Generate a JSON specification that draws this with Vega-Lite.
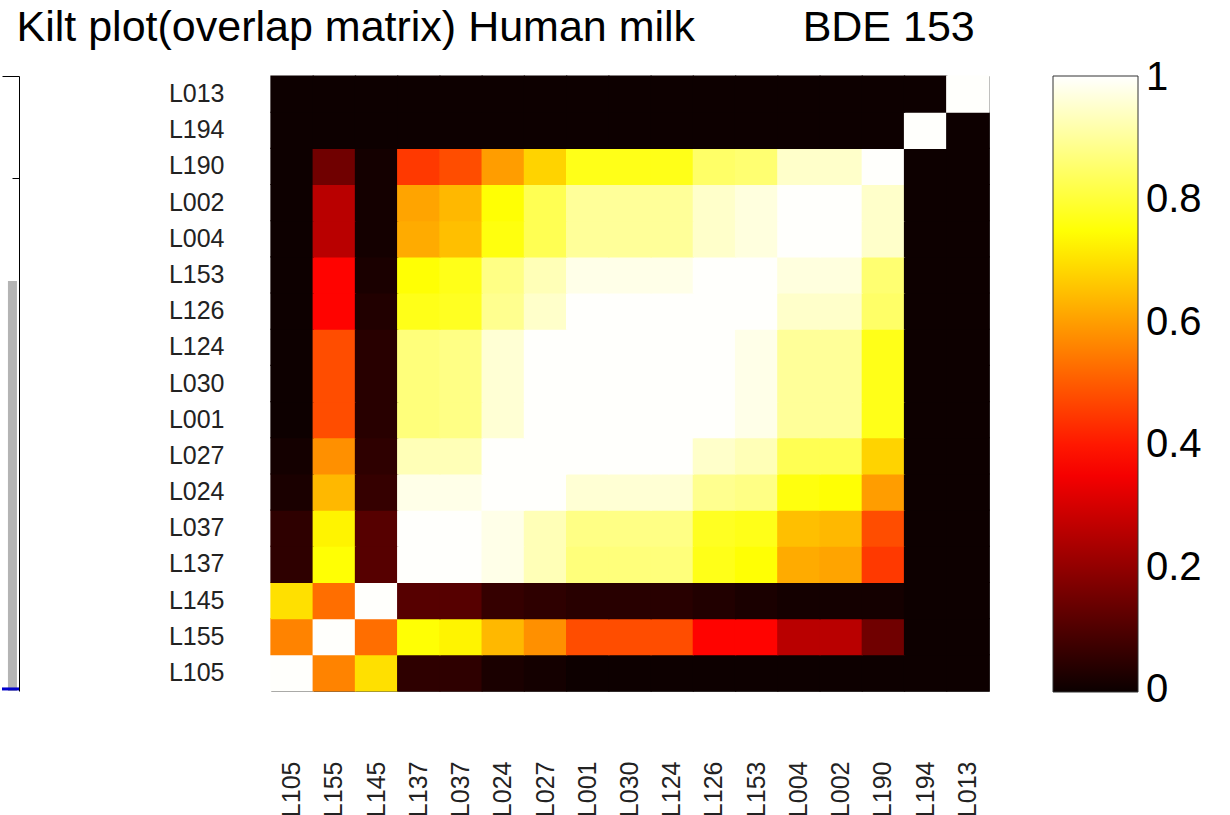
{
"$schema": "https://vega.github.io/schema/vega-lite/v6.json",
"padding": {"left": 0, "top": 6, "right": 0, "bottom": 0},
"background": "white",
"title": {"text": "Kilt plot(overlap matrix) Human milk\u00a0\u00a0\u00a0\u00a0\u00a0\u00a0\u00a0\u00a0\u00a0BDE 153", "anchor": "start", "dx": 16, "offset": 25, "fontSize": 43, "fontWeight": "normal", "font": "Liberation Sans", "color": "#000"},
"config": {"font": "Liberation Sans", "view": {"stroke": "#555", "strokeWidth": 1}, "concat": {"spacing": 146}},
"hconcat": [
{
 "width": 17, "height": 615,
 "view": {"stroke": null},
 "data": {"values": [{"series": "gray", "v": 0.8}]},
 "layer": [
  {"mark": {"type": "rect", "color": "#b4b4b4"},
   "encoding": {
    "x": {"datum": 0.35, "type": "quantitative", "scale": {"domain": [0, 1], "nice": false, "zero": false}, "axis": {"orient": "top", "labels": false, "ticks": false, "domain": true, "domainColor": "#000", "grid": false, "title": null}},
    "x2": {"datum": 0.88},
    "y": {"field": "v", "type": "quantitative", "scale": {"domain": [0, 1.2], "nice": false}, "axis": {"orient": "right", "values": [1], "labels": false, "domain": true, "domainColor": "#000", "tickSize": -7, "tickColor": "#000", "title": null, "grid": false}},
    "y2": {"datum": 0}
   }},
  {"mark": {"type": "rule", "color": "#0000cc", "strokeWidth": 3}, "encoding": {"y": {"datum": 0.004}}}
 ]
},
{
 "width": 718, "height": 615,
 "data": {"values": [
{"row":"L105","col":"L105","value":1},{"row":"L105","col":"L155","value":0.56},{"row":"L105","col":"L145","value":0.70},{"row":"L105","col":"L137","value":0.05},{"row":"L105","col":"L037","value":0.05},{"row":"L105","col":"L024","value":0.02},{"row":"L105","col":"L027","value":0.01},{"row":"L105","col":"L001","value":0},{"row":"L105","col":"L030","value":0},{"row":"L105","col":"L124","value":0},{"row":"L105","col":"L126","value":0},{"row":"L105","col":"L153","value":0},{"row":"L105","col":"L004","value":0},{"row":"L105","col":"L002","value":0},{"row":"L105","col":"L190","value":0},{"row":"L105","col":"L194","value":0},{"row":"L105","col":"L013","value":0},
{"row":"L155","col":"L105","value":0.56},{"row":"L155","col":"L155","value":1},{"row":"L155","col":"L145","value":0.53},{"row":"L155","col":"L137","value":0.75},{"row":"L155","col":"L037","value":0.73},{"row":"L155","col":"L024","value":0.64},{"row":"L155","col":"L027","value":0.58},{"row":"L155","col":"L001","value":0.48},{"row":"L155","col":"L030","value":0.48},{"row":"L155","col":"L124","value":0.48},{"row":"L155","col":"L126","value":0.37},{"row":"L155","col":"L153","value":0.37},{"row":"L155","col":"L004","value":0.26},{"row":"L155","col":"L002","value":0.26},{"row":"L155","col":"L190","value":0.15},{"row":"L155","col":"L194","value":0},{"row":"L155","col":"L013","value":0},
{"row":"L145","col":"L105","value":0.70},{"row":"L145","col":"L155","value":0.53},{"row":"L145","col":"L145","value":1},{"row":"L145","col":"L137","value":0.11},{"row":"L145","col":"L037","value":0.11},{"row":"L145","col":"L024","value":0.06},{"row":"L145","col":"L027","value":0.05},{"row":"L145","col":"L001","value":0.04},{"row":"L145","col":"L030","value":0.04},{"row":"L145","col":"L124","value":0.04},{"row":"L145","col":"L126","value":0.03},{"row":"L145","col":"L153","value":0.02},{"row":"L145","col":"L004","value":0.01},{"row":"L145","col":"L002","value":0.01},{"row":"L145","col":"L190","value":0.01},{"row":"L145","col":"L194","value":0},{"row":"L145","col":"L013","value":0},
{"row":"L137","col":"L105","value":0.05},{"row":"L137","col":"L155","value":0.75},{"row":"L137","col":"L145","value":0.11},{"row":"L137","col":"L137","value":1},{"row":"L137","col":"L037","value":1},{"row":"L137","col":"L024","value":0.98},{"row":"L137","col":"L027","value":0.93},{"row":"L137","col":"L001","value":0.87},{"row":"L137","col":"L030","value":0.87},{"row":"L137","col":"L124","value":0.87},{"row":"L137","col":"L126","value":0.77},{"row":"L137","col":"L153","value":0.75},{"row":"L137","col":"L004","value":0.62},{"row":"L137","col":"L002","value":0.61},{"row":"L137","col":"L190","value":0.45},{"row":"L137","col":"L194","value":0},{"row":"L137","col":"L013","value":0},
{"row":"L037","col":"L105","value":0.05},{"row":"L037","col":"L155","value":0.73},{"row":"L037","col":"L145","value":0.11},{"row":"L037","col":"L137","value":1},{"row":"L037","col":"L037","value":1},{"row":"L037","col":"L024","value":0.98},{"row":"L037","col":"L027","value":0.93},{"row":"L037","col":"L001","value":0.88},{"row":"L037","col":"L030","value":0.88},{"row":"L037","col":"L124","value":0.88},{"row":"L037","col":"L126","value":0.78},{"row":"L037","col":"L153","value":0.77},{"row":"L037","col":"L004","value":0.65},{"row":"L037","col":"L002","value":0.64},{"row":"L037","col":"L190","value":0.48},{"row":"L037","col":"L194","value":0},{"row":"L037","col":"L013","value":0},
{"row":"L024","col":"L105","value":0.02},{"row":"L024","col":"L155","value":0.64},{"row":"L024","col":"L145","value":0.06},{"row":"L024","col":"L137","value":0.98},{"row":"L024","col":"L037","value":0.98},{"row":"L024","col":"L024","value":1},{"row":"L024","col":"L027","value":1},{"row":"L024","col":"L001","value":0.96},{"row":"L024","col":"L030","value":0.96},{"row":"L024","col":"L124","value":0.96},{"row":"L024","col":"L126","value":0.89},{"row":"L024","col":"L153","value":0.88},{"row":"L024","col":"L004","value":0.76},{"row":"L024","col":"L002","value":0.75},{"row":"L024","col":"L190","value":0.60},{"row":"L024","col":"L194","value":0},{"row":"L024","col":"L013","value":0},
{"row":"L027","col":"L105","value":0.01},{"row":"L027","col":"L155","value":0.58},{"row":"L027","col":"L145","value":0.05},{"row":"L027","col":"L137","value":0.93},{"row":"L027","col":"L037","value":0.93},{"row":"L027","col":"L024","value":1},{"row":"L027","col":"L027","value":1},{"row":"L027","col":"L001","value":1},{"row":"L027","col":"L030","value":1},{"row":"L027","col":"L124","value":1},{"row":"L027","col":"L126","value":0.95},{"row":"L027","col":"L153","value":0.93},{"row":"L027","col":"L004","value":0.83},{"row":"L027","col":"L002","value":0.83},{"row":"L027","col":"L190","value":0.68},{"row":"L027","col":"L194","value":0},{"row":"L027","col":"L013","value":0},
{"row":"L001","col":"L105","value":0},{"row":"L001","col":"L155","value":0.48},{"row":"L001","col":"L145","value":0.04},{"row":"L001","col":"L137","value":0.87},{"row":"L001","col":"L037","value":0.88},{"row":"L001","col":"L024","value":0.96},{"row":"L001","col":"L027","value":1},{"row":"L001","col":"L001","value":1},{"row":"L001","col":"L030","value":1},{"row":"L001","col":"L124","value":1},{"row":"L001","col":"L126","value":1},{"row":"L001","col":"L153","value":0.98},{"row":"L001","col":"L004","value":0.90},{"row":"L001","col":"L002","value":0.90},{"row":"L001","col":"L190","value":0.77},{"row":"L001","col":"L194","value":0},{"row":"L001","col":"L013","value":0},
{"row":"L030","col":"L105","value":0},{"row":"L030","col":"L155","value":0.48},{"row":"L030","col":"L145","value":0.04},{"row":"L030","col":"L137","value":0.87},{"row":"L030","col":"L037","value":0.88},{"row":"L030","col":"L024","value":0.96},{"row":"L030","col":"L027","value":1},{"row":"L030","col":"L001","value":1},{"row":"L030","col":"L030","value":1},{"row":"L030","col":"L124","value":1},{"row":"L030","col":"L126","value":1},{"row":"L030","col":"L153","value":0.98},{"row":"L030","col":"L004","value":0.90},{"row":"L030","col":"L002","value":0.90},{"row":"L030","col":"L190","value":0.77},{"row":"L030","col":"L194","value":0},{"row":"L030","col":"L013","value":0},
{"row":"L124","col":"L105","value":0},{"row":"L124","col":"L155","value":0.48},{"row":"L124","col":"L145","value":0.04},{"row":"L124","col":"L137","value":0.87},{"row":"L124","col":"L037","value":0.88},{"row":"L124","col":"L024","value":0.96},{"row":"L124","col":"L027","value":1},{"row":"L124","col":"L001","value":1},{"row":"L124","col":"L030","value":1},{"row":"L124","col":"L124","value":1},{"row":"L124","col":"L126","value":1},{"row":"L124","col":"L153","value":0.98},{"row":"L124","col":"L004","value":0.90},{"row":"L124","col":"L002","value":0.90},{"row":"L124","col":"L190","value":0.77},{"row":"L124","col":"L194","value":0},{"row":"L124","col":"L013","value":0},
{"row":"L126","col":"L105","value":0},{"row":"L126","col":"L155","value":0.37},{"row":"L126","col":"L145","value":0.03},{"row":"L126","col":"L137","value":0.77},{"row":"L126","col":"L037","value":0.78},{"row":"L126","col":"L024","value":0.89},{"row":"L126","col":"L027","value":0.95},{"row":"L126","col":"L001","value":1},{"row":"L126","col":"L030","value":1},{"row":"L126","col":"L124","value":1},{"row":"L126","col":"L126","value":1},{"row":"L126","col":"L153","value":1},{"row":"L126","col":"L004","value":0.95},{"row":"L126","col":"L002","value":0.95},{"row":"L126","col":"L190","value":0.85},{"row":"L126","col":"L194","value":0},{"row":"L126","col":"L013","value":0},
{"row":"L153","col":"L105","value":0},{"row":"L153","col":"L155","value":0.37},{"row":"L153","col":"L145","value":0.02},{"row":"L153","col":"L137","value":0.75},{"row":"L153","col":"L037","value":0.77},{"row":"L153","col":"L024","value":0.88},{"row":"L153","col":"L027","value":0.93},{"row":"L153","col":"L001","value":0.98},{"row":"L153","col":"L030","value":0.98},{"row":"L153","col":"L124","value":0.98},{"row":"L153","col":"L126","value":1},{"row":"L153","col":"L153","value":1},{"row":"L153","col":"L004","value":0.97},{"row":"L153","col":"L002","value":0.97},{"row":"L153","col":"L190","value":0.86},{"row":"L153","col":"L194","value":0},{"row":"L153","col":"L013","value":0},
{"row":"L004","col":"L105","value":0},{"row":"L004","col":"L155","value":0.26},{"row":"L004","col":"L145","value":0.01},{"row":"L004","col":"L137","value":0.62},{"row":"L004","col":"L037","value":0.65},{"row":"L004","col":"L024","value":0.76},{"row":"L004","col":"L027","value":0.83},{"row":"L004","col":"L001","value":0.90},{"row":"L004","col":"L030","value":0.90},{"row":"L004","col":"L124","value":0.90},{"row":"L004","col":"L126","value":0.95},{"row":"L004","col":"L153","value":0.97},{"row":"L004","col":"L004","value":1},{"row":"L004","col":"L002","value":1},{"row":"L004","col":"L190","value":0.95},{"row":"L004","col":"L194","value":0},{"row":"L004","col":"L013","value":0},
{"row":"L002","col":"L105","value":0},{"row":"L002","col":"L155","value":0.26},{"row":"L002","col":"L145","value":0.01},{"row":"L002","col":"L137","value":0.61},{"row":"L002","col":"L037","value":0.64},{"row":"L002","col":"L024","value":0.75},{"row":"L002","col":"L027","value":0.83},{"row":"L002","col":"L001","value":0.90},{"row":"L002","col":"L030","value":0.90},{"row":"L002","col":"L124","value":0.90},{"row":"L002","col":"L126","value":0.95},{"row":"L002","col":"L153","value":0.97},{"row":"L002","col":"L004","value":1},{"row":"L002","col":"L002","value":1},{"row":"L002","col":"L190","value":0.95},{"row":"L002","col":"L194","value":0},{"row":"L002","col":"L013","value":0},
{"row":"L190","col":"L105","value":0},{"row":"L190","col":"L155","value":0.15},{"row":"L190","col":"L145","value":0.01},{"row":"L190","col":"L137","value":0.45},{"row":"L190","col":"L037","value":0.48},{"row":"L190","col":"L024","value":0.60},{"row":"L190","col":"L027","value":0.68},{"row":"L190","col":"L001","value":0.77},{"row":"L190","col":"L030","value":0.77},{"row":"L190","col":"L124","value":0.77},{"row":"L190","col":"L126","value":0.85},{"row":"L190","col":"L153","value":0.86},{"row":"L190","col":"L004","value":0.95},{"row":"L190","col":"L002","value":0.95},{"row":"L190","col":"L190","value":1},{"row":"L190","col":"L194","value":0},{"row":"L190","col":"L013","value":0},
{"row":"L194","col":"L105","value":0},{"row":"L194","col":"L155","value":0},{"row":"L194","col":"L145","value":0},{"row":"L194","col":"L137","value":0},{"row":"L194","col":"L037","value":0},{"row":"L194","col":"L024","value":0},{"row":"L194","col":"L027","value":0},{"row":"L194","col":"L001","value":0},{"row":"L194","col":"L030","value":0},{"row":"L194","col":"L124","value":0},{"row":"L194","col":"L126","value":0},{"row":"L194","col":"L153","value":0},{"row":"L194","col":"L004","value":0},{"row":"L194","col":"L002","value":0},{"row":"L194","col":"L190","value":0},{"row":"L194","col":"L194","value":1},{"row":"L194","col":"L013","value":0},
{"row":"L013","col":"L105","value":0},{"row":"L013","col":"L155","value":0},{"row":"L013","col":"L145","value":0},{"row":"L013","col":"L137","value":0},{"row":"L013","col":"L037","value":0},{"row":"L013","col":"L024","value":0},{"row":"L013","col":"L027","value":0},{"row":"L013","col":"L001","value":0},{"row":"L013","col":"L030","value":0},{"row":"L013","col":"L124","value":0},{"row":"L013","col":"L126","value":0},{"row":"L013","col":"L153","value":0},{"row":"L013","col":"L004","value":0},{"row":"L013","col":"L002","value":0},{"row":"L013","col":"L190","value":0},{"row":"L013","col":"L194","value":0},{"row":"L013","col":"L013","value":1}
 ]},
 "mark": {"type": "rect", "width": {"band": 1.03}, "height": {"band": 1.03}},
 "encoding": {
  "x": {"field": "col", "type": "nominal", "sort": ["L105","L155","L145","L137","L037","L024","L027","L001","L030","L124","L126","L153","L004","L002","L190","L194","L013"], "title": null,
        "axis": {"labelAngle": -90, "labelPadding": 70, "ticks": false, "domain": false, "labelFontSize": 25, "labelColor": "#222"}},
  "y": {"field": "row", "type": "nominal", "sort": ["L013","L194","L190","L002","L004","L153","L126","L124","L030","L001","L027","L024","L037","L137","L145","L155","L105"], "title": null,
        "axis": {"labelPadding": 47, "ticks": false, "domain": false, "labelFontSize": 25, "labelColor": "#222"}},
  "color": {"field": "value", "type": "quantitative",
        "scale": {"domain": [-0.003, 0.365, 0.746, 1.003], "range": ["#0b0000", "#ff0000", "#ffff00", "#ffffff"], "interpolate": "rgb"},
        "legend": {"type": "gradient", "title": null, "orient": "right", "offset": 62, "direction": "vertical", "gradientLength": 616, "gradientThickness": 85, "gradientStrokeColor": "#333", "gradientStrokeWidth": 1, "labelFontSize": 40, "labelColor": "#000", "labelOffset": 8, "values": [0, 0.2, 0.4, 0.6, 0.8, 1], "format": "~g", "labelBaseline": "middle", "labelOverlap": false, "padding": 0}}
 }
}
]
}
